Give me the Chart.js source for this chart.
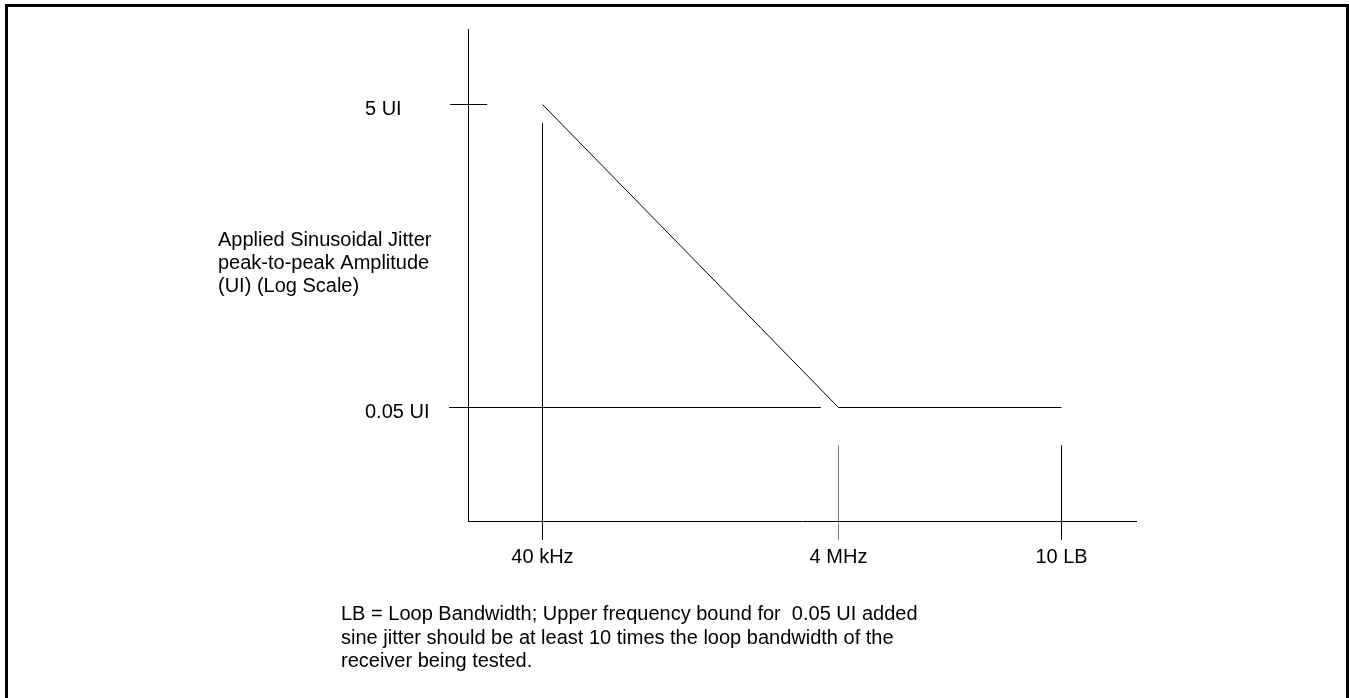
<!DOCTYPE html>
<html>
<head>
<meta charset="utf-8">
<title>Applied sinusoidal jitter mask</title>
<script src="https://cdn.jsdelivr.net/npm/chart.js@4.4.1/dist/chart.umd.min.js"></script>
<style>
  html, body { margin: 0; padding: 0; background: #fff; overflow: hidden; }
  #wrap { position: relative; width: 1349px; height: 698px; }
  #frame { position: absolute; left: 5px; top: 4px; width: 1338px; height: 720px; border: 3px solid #000; pointer-events: none; }
</style>
</head>
<body>
<div id="wrap">
  <canvas id="jitter"></canvas>
  <div id="frame"></div>
</div>
<script>
// frequency axis (log); 10 LB sits where the drawing puts it
const freqLabels = ['40 kHz', '4 MHz', '10 LB'];
const freqValues = [40e3, 4e6, 1.285e8];
// amplitude axis (log)
const jitterLabels = ['5 UI', '0.05 UI'];
const jitterValues = [5, 0.05];
// the jitter mask, one amplitude per frequency
const maskValues = [5, 0.05, 0.05];

// guide lines
const dropTop = [3.75, 0.028, 0.028];  // UI where each frequency marker starts
const dropBottom = 0.0067;             // they all run a bit past the axis
const levelFrom = [9.5e3, 9.35e3];     // Hz, left end of the 5 UI / 0.05 UI lines
const levelTo = [1.69e4, 3.04e6];      // Hz, right end

const yTitle = ['Applied Sinusoidal Jitter', 'peak-to-peak Amplitude', '(UI) (Log Scale)'];
const note = [
  'LB = Loop Bandwidth; Upper frequency bound for  0.05 UI added',
  'sine jitter should be at least 10 times the loop bandwidth of the',
  'receiver being tested.'
];

const FONT = '"Liberation Sans", Arial, sans-serif';
Chart.defaults.font.family = FONT;
Chart.defaults.font.size = 20;
Chart.defaults.color = '#000';

function seg(data, color) {
  return { data, borderColor: color, borderWidth: 1, pointRadius: 0, fill: false, clip: false, tension: 0 };
}

const datasets = [seg(freqValues.map((f, i) => ({ x: f, y: maskValues[i] })), '#000')];
freqValues.forEach((f, i) => {
  datasets.push(seg([{ x: f, y: dropTop[i] }, { x: f, y: dropBottom }], i === 1 ? '#808080' : '#000'));
});
jitterValues.forEach((v, i) => {
  datasets.push(seg([{ x: levelFrom[i], y: v }, { x: levelTo[i], y: v }], '#000'));
});

// free text: horizontal y title and the foot note
const notes = {
  id: 'notes',
  afterDraw(chart) {
    const ctx = chart.ctx;
    ctx.save();
    ctx.font = '20px ' + FONT;
    ctx.fillStyle = '#000';
    ctx.textAlign = 'left';
    ctx.textBaseline = 'alphabetic';
    yTitle.forEach((t, i) => ctx.fillText(t, 218, 246 + i * 23));
    note.forEach((t, i) => ctx.fillText(t, 341, 620 + i * 23.5));
    ctx.restore();
  }
};

new Chart(document.getElementById('jitter'), {
  type: 'line',
  data: { datasets },
  plugins: [notes],
  options: {
    responsive: true,
    maintainAspectRatio: false,
    animation: false,
    events: [],
    layout: { padding: { left: 365, right: 213, top: 29, bottom: 0 } },
    plugins: { legend: { display: false }, tooltip: { enabled: false } },
    scales: {
      x: {
        type: 'logarithmic',
        min: 12554,
        max: 4.094e8,
        bounds: 'data',
        grid: { display: false, drawTicks: false },
        border: { display: true, color: '#000', width: 1 },
        afterBuildTicks: s => { s.ticks = freqValues.map(v => ({ value: v })); },
        afterFit: s => { s.height = 177; },
        ticks: { padding: 24, maxRotation: 0, autoSkip: false, callback: (v, i) => freqLabels[i] }
      },
      y: {
        type: 'logarithmic',
        min: 0.008909,
        max: 15.75,
        bounds: 'data',
        grid: { display: false, drawTicks: false },
        border: { display: true, color: '#000', width: 1 },
        afterBuildTicks: s => { s.ticks = jitterValues.map(v => ({ value: v })); },
        afterFit: s => { s.width = 103; },
        ticks: { crossAlign: 'far', labelOffset: 5, padding: 0, autoSkip: false, callback: (v, i) => jitterLabels[i] }
      }
    }
  }
});
</script>
</body>
</html>
